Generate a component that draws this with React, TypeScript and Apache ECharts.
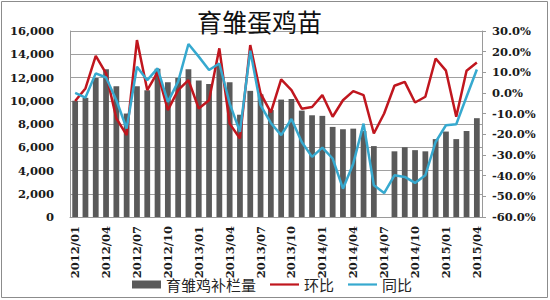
import React, { useEffect, useRef } from "react";
import * as echarts from "echarts";

const categories: string[] = [
  "2012/01", "2012/02", "2012/03", "2012/04", "2012/05", "2012/06", "2012/07", "2012/08", "2012/09", "2012/10", "2012/11", "2012/12",
  "2013/01", "2013/02", "2013/03", "2013/04", "2013/05", "2013/06", "2013/07", "2013/08", "2013/09", "2013/10", "2013/11", "2013/12",
  "2014/01", "2014/02", "2014/03", "2014/04", "2014/05", "2014/06", "2014/07", "2014/08", "2014/09", "2014/10", "2014/11", "2014/12",
  "2015/01", "2015/02", "2015/03", "2015/04",
];

// 育雏鸡补栏量 (left axis)
const stock: (number | null)[] = [
  10000, 10250, 11950, 12700, 11250, 8900, 11250, 10900, 12750, 11600, 11950, 12700,
  11750, 11450, 13200, 11600, 8800, 10850, 10550, 9200, 10100, 10150, 9150, 8750,
  8700, 7750, 7550, 7600, 7400, 6100, null, 5650, 6000, 5750, 5650, 6700,
  7350, 6700, 7400, 8500,
];

// 环比 (%; right axis)
const mom: number[] = [
  -3.9, 2.2, 18.0, 9.5, -12.3, -20.4, 25.6, 1.4, 10.0, -8.3, 1.4, 6.2,
  -7.5, -3.5, 21.6, -14.8, -22.0, 23.2, -0.2, -9.4, 6.6, 1.4, -7.6, -6.8,
  -1.0, -11.5, -3.5, 0.9, -1.0, -19.6, -9.9, 3.5, 5.4, -4.6, -1.8, 16.7,
  10.8, -11.5, 10.8, 14.8,
];

// 同比 (%; right axis)
const yoy: number[] = [
  0.1, -2.2, 9.5, 7.5, -3.5, -17.2, 12.7, 6.2, 11.9, -4.3, 5.5, 23.7,
  17.6, 11.1, 14.3, -5.0, -18.8, 20.5, -5.9, -14.5, -20.4, -12.6, -23.7, -30.9,
  -26.4, -31.7, -46.3, -34.2, -14.8, -44.6, -48.4, -39.8, -40.6, -43.5, -39.8, -23.7,
  -15.6, -15.1, -1.8, 11.4,
];

const axisFont = "'DejaVu Serif', 'Liberation Serif', serif";
const cjkFont = "'Noto Sans CJK SC', 'Noto Sans', sans-serif";
const lineIcon = "path://M0,0L0,0M0,2.9L29,2.9L29,5.1L0,5.1ZM29,8L29,8";

export default function App() {
  const ref = useRef<HTMLDivElement>(null);

  useEffect(() => {
    document.body.style.margin = "0";
    if (!ref.current) return;
    const chart = echarts.init(ref.current, null, { renderer: "svg" });
    chart.setOption({
      animation: false,
      backgroundColor: "#ffffff",
      title: {
        text: "育雏蛋鸡苗",
        left: 192,
        top: 3,
        textStyle: { fontFamily: cjkFont, fontSize: 25, fontWeight: "normal", color: "#111" },
      },
      graphic: [
        {
          type: "rect",
          shape: { x: 1.5, y: 1.5, width: 546, height: 296 },
          style: { fill: "none", stroke: "#8c8c8c", lineWidth: 1 },
          silent: true,
        },
      ],
      legend: {
        left: 127,
        top: 272,
        itemWidth: 29,
        itemHeight: 8,
        itemGap: 14,
        textStyle: { fontFamily: cjkFont, fontSize: 15, color: "#262626" },
        data: [
          { name: "育雏鸡补栏量", icon: "rect" },
          { name: "环比", icon: lineIcon },
          { name: "同比", icon: lineIcon },
        ],
      },
      grid: { left: 70, right: 68, top: 31, bottom: 83 },
      xAxis: {
        type: "category",
        data: categories,
        axisLine: { lineStyle: { color: "#9a9a9a" } },
        axisTick: { show: false },
        axisLabel: {
          interval: 2,
          rotate: 90,
          margin: 9,
          fontFamily: axisFont,
          fontWeight: "bold",
          fontSize: 11.5,
          color: "#1a1a1a",
        },
      },
      yAxis: [
        {
          type: "value",
          min: 0,
          max: 16000,
          interval: 2000,
          axisLine: { show: true, lineStyle: { color: "#9a9a9a" } },
          axisTick: { show: false },
          splitLine: { lineStyle: { color: "#a0a0a0", width: 1 } },
          axisLabel: {
            margin: 16,
            fontFamily: axisFont,
            fontWeight: "bold",
            fontSize: 11.5,
            color: "#1a1a1a",
            formatter: (v: number) => v.toLocaleString("en-US"),
          },
        },
        {
          type: "value",
          min: -60,
          max: 30,
          interval: 10,
          position: "right",
          axisLine: { show: true, lineStyle: { color: "#9a9a9a" } },
          axisTick: { show: true, length: 4, lineStyle: { color: "#9a9a9a" } },
          splitLine: { show: false },
          axisLabel: {
            margin: 10,
            fontFamily: axisFont,
            fontWeight: "bold",
            fontSize: 11.5,
            color: "#1a1a1a",
            formatter: (v: number) => v.toFixed(1) + "%",
          },
        },
      ],
      series: [
        {
          name: "育雏鸡补栏量",
          type: "bar",
          yAxisIndex: 0,
          data: stock,
          barWidth: "56%",
          itemStyle: { color: "#5a5a5a" },
        },
        {
          name: "环比",
          type: "line",
          yAxisIndex: 1,
          data: mom,
          symbol: "none",
          lineStyle: { color: "#c0161e", width: 2.5 },
          itemStyle: { color: "#c0161e" },
        },
        {
          name: "同比",
          type: "line",
          yAxisIndex: 1,
          data: yoy,
          symbol: "none",
          lineStyle: { color: "#36a9cf", width: 2.5 },
          itemStyle: { color: "#36a9cf" },
        },
      ],
    });
    return () => chart.dispose();
  }, []);

  return <div ref={ref} style={{ width: 550, height: 300 }} />;
}
